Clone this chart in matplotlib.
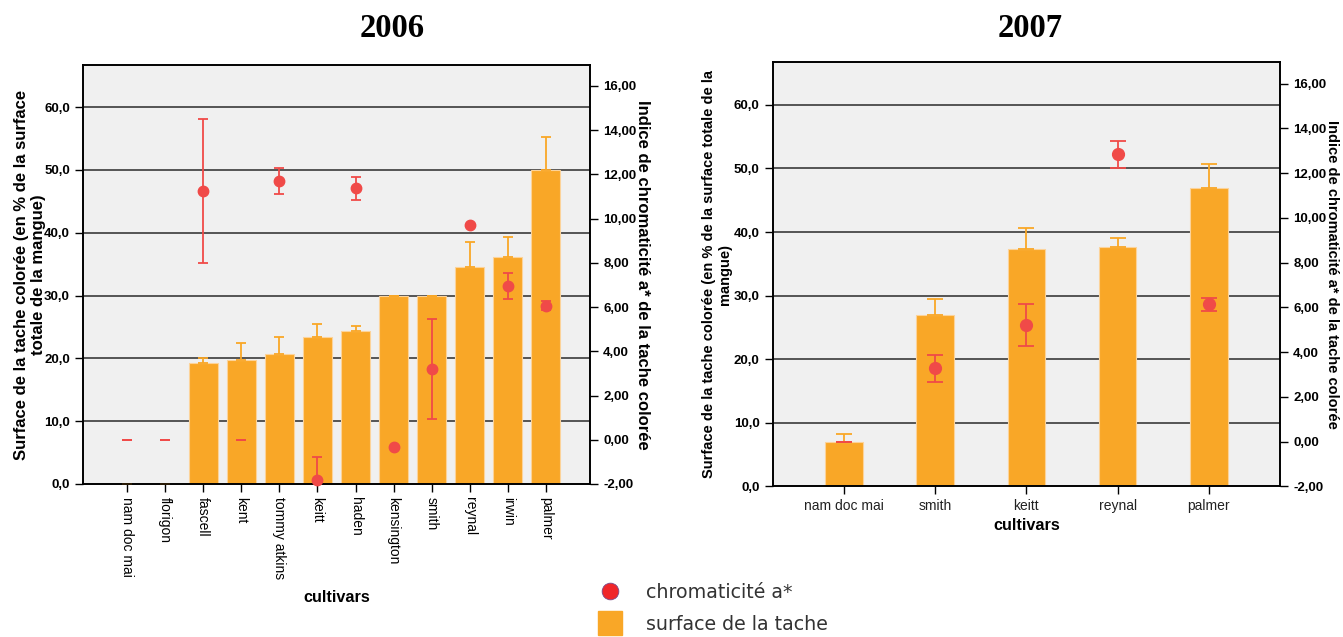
import matplotlib.pyplot as plt
import numpy as np
from matplotlib.lines import Line2D
from matplotlib.ticker import FuncFormatter

plt.rcParams['font.family'] = ['Liberation Sans', 'DejaVu Sans']

# 2006 data
cultivars_2006 = ['nam doc mai', 'florigon', 'fascell', 'kent', 'tommy atkins', 'keitt',
                  'haden', 'kensington', 'smith', 'reynal', 'irwin', 'palmer']
surface_2006 = [0.0, 0.0, 19.2, 19.8, 20.7, 23.4, 24.4, 30.0, 30.0, 34.5, 36.2, 50.0]
surface_err_2006 = [0.0, 0.0, 0.8, 2.7, 2.7, 2.0, 0.8, 0.0, 0.0, 4.1, 3.1, 5.3]
chroma_2006 = [0.0, 0.0, 11.26, 0.0, 11.71, -1.82, 11.38, -0.32, 3.19, 9.73, 6.95, 6.07]
chroma_err_2006 = [0.0, 0.0, 3.25, 0.0, 0.59, 1.05, 0.52, 0.0, 2.25, 0.0, 0.60, 0.20]
chroma_dot_2006 = [False, False, True, False, True, True, True, True, True, True, True, True]

# 2007 data
cultivars_2007 = ['nam doc mai', 'smith', 'keitt', 'reynal', 'palmer']
surface_2007 = [6.9, 27.0, 37.3, 37.6, 46.9]
surface_err_2007 = [1.25, 2.4, 3.3, 1.5, 3.8]
chroma_2007 = [0.0, 3.27, 5.22, 12.83, 6.13]
chroma_err_2007 = [0.0, 0.62, 0.93, 0.61, 0.30]
chroma_dot_2007 = [False, True, True, True, True]

BAR = '#F9A727'
RED = '#F04A48'

fmt1 = FuncFormatter(lambda v, p: f'{v:.1f}'.replace('.', ','))
fmt2 = FuncFormatter(lambda v, p: f'{v:.2f}'.replace('.', ','))


def panel(ax, names, surf, surf_err, chroma, chroma_err, dots, width, cap, msize,
          ylab, ylab2, labsize, rotate, xlim_pad, pad1, pad2, xpad):
    x = np.arange(len(names))
    ax.set_facecolor('#F0F0F0')
    for v in range(10, 70, 10):
        ax.axhline(v, color='#2a2a2a', lw=1.1, zorder=0)
    ax.bar(x, surf, width=width, color=BAR, edgecolor='#FCD39A', linewidth=0.8, zorder=2)
    ax.errorbar(x, surf, yerr=[np.zeros(len(x)), surf_err], fmt='none', ecolor=BAR,
                elinewidth=1.3, capsize=cap, capthick=1.3, zorder=3)
    ax.set_ylim(0, 66.7)
    ax.set_xlim(-xlim_pad, len(names) - 1 + xlim_pad)
    ax.set_yticks(range(0, 70, 10))
    ax.yaxis.set_major_formatter(fmt1)
    ax.set_xticks(x)
    if rotate:
        ax.set_xticklabels(names, rotation=-90, fontsize=10, va='top', ha='center')
    else:
        ax.set_xticklabels(names, fontsize=10, color='#222222')
    ax.tick_params(axis='y', labelsize=9.5, length=6, width=1)
    ax.tick_params(axis='x', length=6, width=1)
    for t in ax.get_yticklabels():
        t.set_fontweight('bold')
    ax.set_ylabel(ylab, fontsize=labsize, fontweight='bold', labelpad=pad1)
    ax.set_xlabel('cultivars', fontsize=11.7, fontweight='bold', labelpad=xpad)
    for s in ax.spines.values():
        s.set_color('black')
        s.set_linewidth(1.2)

    ax2 = ax.twinx()
    ax2.set_ylim(-2, 16.95)
    ax2.set_yticks(range(-2, 18, 2))
    ax2.yaxis.set_major_formatter(fmt2)
    ax2.tick_params(axis='y', labelsize=9.5, length=6, width=1)
    for t in ax2.get_yticklabels():
        t.set_fontweight('bold')
    ax2.set_ylabel(ylab2, fontsize=labsize, fontweight='bold', rotation=-90, labelpad=pad2)
    for i in range(len(x)):
        if chroma_err[i] > 0 or not dots[i]:
            ax2.errorbar(x[i], chroma[i], yerr=chroma_err[i], fmt='none', ecolor=RED,
                         elinewidth=1.3, capsize=cap, capthick=1.3, zorder=4)
        if dots[i]:
            ax2.plot(x[i], chroma[i], 'o', color=RED, markersize=msize, zorder=5,
                     clip_on=False)
    for s in ax2.spines.values():
        s.set_color('black')
        s.set_linewidth(1.2)
    return ax2


fig = plt.figure(figsize=(13.43, 6.37), dpi=100)
ax1 = fig.add_axes([0.0618, 0.2402, 0.3775, 0.6578])
ax3 = fig.add_axes([0.5753, 0.2366, 0.3778, 0.6656])

panel(ax1, cultivars_2006, surface_2006, surface_err_2006, chroma_2006, chroma_err_2006,
      chroma_dot_2006, 0.76, 3.8, 7.5,
      'Surface de la tache colorée (en % de la surface\ntotale de la mangue)',
      'Indice de chromaticité a* de la tache colorée', 12, True, 1.16, -1.5, 10, 8)
panel(ax3, cultivars_2007, surface_2007, surface_err_2007, chroma_2007, chroma_err_2007,
      chroma_dot_2007, 0.41, 6.0, 8.5,
      'Surface de la tache colorée (en % de la surface totale de la\nmangue)',
      'Indice de chromaticité a* de la tache colorée', 10.5, False, 0.78, 1, 9, 3)

fig.text(0.292, 0.955, '2006', fontsize=23.5, fontweight='bold', family='Liberation Serif',
         ha='center', va='center')
fig.text(0.767, 0.955, '2007', fontsize=23.5, fontweight='bold', family='Liberation Serif',
         ha='center', va='center')

# legend
handles = [Line2D([], [], marker='o', ls='none', color='#F0262A', markersize=12,
                  markeredgecolor='#7a4a8a', markeredgewidth=0.6),
           Line2D([], [], marker='s', ls='none', color=BAR, markersize=17)]
fig.legend(handles, ['chromaticité a*', 'surface de la tache'], loc='center left',
           bbox_to_anchor=(0.427, 0.045), frameon=False,
           prop={'family': 'DejaVu Sans', 'size': 13.7}, labelspacing=0.65,
           handletextpad=0.9, labelcolor='#333333')

fig.savefig('out.png', dpi=100)
